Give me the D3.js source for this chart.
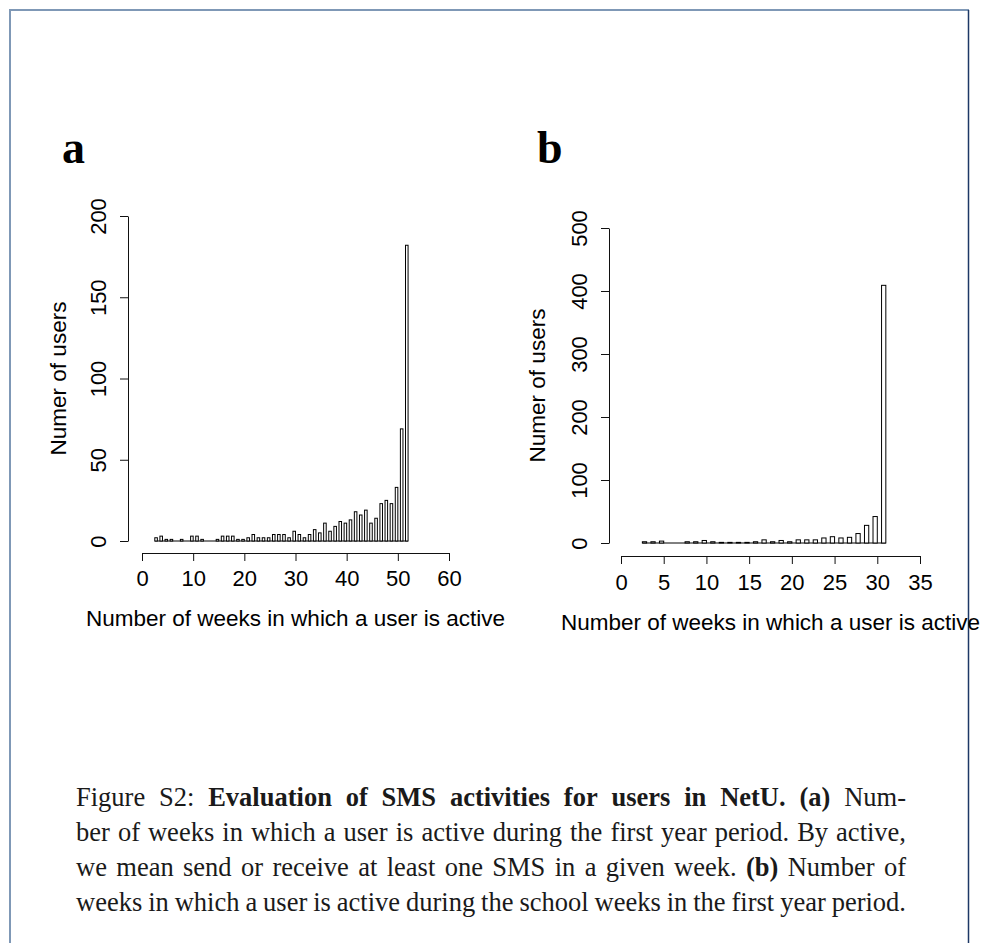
<!DOCTYPE html>
<html>
<head>
<meta charset="utf-8">
<script src="https://cdn.jsdelivr.net/npm/d3@7"></script>
<style>
  body { margin: 0; background: #fff; }
  svg { display: block; }
</style>
</head>
<body>
<script>
// Figure S2: histograms of active weeks per user (two panels + caption)

// panel a: weeks active in the first year
const weeksA = [3, 4, 5, 6, 7, 8, 9, 10, 11, 12, 13, 14, 15, 16, 17, 18, 19, 20, 21, 22,
  23, 24, 25, 26, 27, 28, 29, 30, 31, 32, 33, 34, 35, 36, 37, 38, 39, 40, 41, 42,
  43, 44, 45, 46, 47, 48, 49, 50, 51, 52];
const countsA = [2, 3, 1, 1, 0, 1, 0, 3, 3, 1, 0, 0, 1, 3, 3, 3, 1, 1, 2, 4,
  2, 2, 2, 4, 4, 4, 2, 6, 4, 2, 4, 7, 5, 11, 6, 9, 12, 11, 13, 18,
  16, 19, 11, 14, 23, 25, 23, 33, 69, 182];
const xTicksA = [0, 10, 20, 30, 40, 50, 60];
const yTicksA = [0, 50, 100, 150, 200];

// panel b: weeks active during school weeks
const weeksB = [3, 4, 5, 6, 7, 8, 9, 10, 11, 12, 13, 14, 15, 16, 17, 18, 19, 20, 21, 22,
  23, 24, 25, 26, 27, 28, 29, 30, 31];
const countsB = [2, 2, 3, 0, 0, 2, 2, 4, 2, 1, 1, 1, 1, 2, 5, 2, 4, 2, 5, 5,
  5, 8, 10, 8, 9, 15, 28, 42, 409];
const xTicksB = [0, 5, 10, 15, 20, 25, 30, 35];
const yTicksB = [0, 100, 200, 300, 400, 500];

const xTitle = "Number of weeks in which a user is active";
const yTitle = "Numer of users";

// caption lines, [text, bold]
const captionLines = [
  [["Figure S2:", 0], ["Evaluation of SMS activities for users in NetU.", 1], ["(a)", 1], ["Num-", 0]],
  [["ber of weeks in which a user is active during the first year period. By active,", 0]],
  [["we mean send or receive at least one SMS in a given week.", 0], ["(b)", 1], ["Number of", 0]],
  [["weeks in which a user is active during the school weeks in the first year period.", 0]]
];

const W = 981, H = 943;
const sans = "'Liberation Sans', Arial, Helvetica, sans-serif";
const serif = "'Liberation Serif', 'Times New Roman', serif";

const svg = d3.select("body").append("svg")
  .attr("width", W)
  .attr("height", H);

svg.append("rect").attr("width", W).attr("height", H).attr("fill", "#fff");

// page frame
svg.append("line").attr("x1", 9).attr("x2", 969).attr("y1", 10).attr("y2", 10)
  .attr("stroke", "#7f98b6").attr("stroke-width", 2);
svg.append("line").attr("x1", 10).attr("x2", 10).attr("y1", 9).attr("y2", H)
  .attr("stroke", "#7f98b6").attr("stroke-width", 2);
svg.append("line").attr("x1", 968.5).attr("x2", 968.5).attr("y1", 10).attr("y2", H)
  .attr("stroke", "#1d3866").attr("stroke-width", 1.5);

function drawPanel(cfg) {
  const x = d3.scaleLinear().domain(cfg.xDomain).range(cfg.xRange);
  const y = d3.scaleLinear().domain(cfg.yDomain).range(cfg.yRange);
  const binW = 0.5; // bins are (v-0.5, v]

  const g = svg.append("g");

  // empty bins show as a flat line along the bar baseline
  g.append("line")
    .attr("x1", x(cfg.weeks[0] - binW))
    .attr("x2", x(cfg.weeks[cfg.weeks.length - 1]))
    .attr("y1", y(0)).attr("y2", y(0))
    .attr("stroke", "#000");

  g.selectAll(".bar")
    .data(d3.zip(cfg.weeks, cfg.counts).filter(d => d[1] > 0))
    .join("rect")
    .attr("class", "bar")
    .attr("x", d => x(d[0] - binW))
    .attr("width", d => x(d[0]) - x(d[0] - binW))
    .attr("y", d => y(d[1]))
    .attr("height", d => y(0) - y(d[1]))
    .attr("fill", "#fff")
    .attr("stroke", "#000")
    .attr("stroke-width", 1);

  // x axis, offset below the bars like R's default
  const gx = g.append("g")
    .attr("transform", `translate(0,${cfg.xAxisY})`)
    .call(d3.axisBottom(x).tickValues(cfg.xTicks).tickSize(8).tickSizeOuter(0).tickFormat(d3.format("d")));
  gx.attr("font-size", 22).attr("font-family", sans);
  gx.selectAll("path, line").attr("stroke", "#111");
  gx.selectAll("text").attr("y", cfg.xLabOff).attr("dy", 0).attr("fill", "#000");

  // y axis with rotated labels
  const gy = g.append("g")
    .attr("transform", `translate(${cfg.yAxisX},0)`)
    .call(d3.axisLeft(y).tickValues(cfg.yTicks).tickSize(8).tickSizeOuter(0));
  gy.attr("font-size", 22).attr("font-family", sans);
  gy.selectAll("path, line").attr("stroke", "#111");
  gy.selectAll("text")
    .attr("x", 0).attr("dy", 0)
    .attr("text-anchor", "middle")
    .attr("fill", "#000")
    .attr("transform", "translate(-22,0) rotate(-90)");

  // axis titles
  g.append("text")
    .attr("x", (cfg.xRange[0] + cfg.xRange[1]) / 2)
    .attr("y", cfg.xTitleY)
    .attr("text-anchor", "middle")
    .attr("font-family", sans).attr("font-size", 22.5)
    .text(xTitle);

  const ym = (cfg.yRange[0] + cfg.yRange[1]) / 2;
  g.append("text")
    .attr("transform", `translate(${cfg.yAxisX - cfg.yTitleOff},${ym}) rotate(-90)`)
    .attr("text-anchor", "middle")
    .attr("font-family", sans).attr("font-size", 22.5)
    .text(yTitle);

  // panel letter
  g.append("text")
    .attr("x", cfg.letterX).attr("y", 163)
    .attr("font-family", serif).attr("font-weight", "bold").attr("font-size", 46)
    .text(cfg.letter);
}

drawPanel({
  weeks: weeksA, counts: countsA,
  xDomain: [0, 60], xRange: [142, 449],
  yDomain: [0, 200], yRange: [541, 216],
  xTicks: xTicksA, yTicks: yTicksA,
  xAxisY: 553, xLabOff: 33, yAxisX: 128,
  xTitleY: 626, yTitleOff: 62,
  letter: "a", letterX: 62
});

drawPanel({
  weeks: weeksB, counts: countsB,
  xDomain: [0, 35], xRange: [621, 920],
  yDomain: [0, 500], yRange: [543, 228],
  xTicks: xTicksB, yTicks: yTicksB,
  xAxisY: 556, xLabOff: 34, yAxisX: 609,
  xTitleY: 630, yTitleOff: 64,
  letter: "b", letterX: 537
});

// caption, justified word by word
const capLeft = 76, capRight = 906;
const capY = [806, 841, 876, 911];

captionLines.forEach((segs, i) => {
  const t = svg.append("text")
    .attr("y", capY[i])
    .attr("font-family", serif)
    .attr("font-size", 26.5)
    .attr("fill", "#1a1a1a");

  const words = segs.flatMap(([s, b]) => s.split(" ").map(w => ({ w, b })));
  const spans = t.selectAll("tspan")
    .data(words)
    .join("tspan")
    .attr("font-weight", d => d.b ? "bold" : null)
    .text(d => d.w);

  const widths = spans.nodes().map(n => n.getComputedTextLength());
  const gap = Math.max(3, (capRight - capLeft - d3.sum(widths)) / (words.length - 1));
  let cx = capLeft;
  spans.attr("x", (d, j) => {
    const v = cx;
    cx += widths[j] + gap;
    return v;
  });
});
</script>
</body>
</html>
